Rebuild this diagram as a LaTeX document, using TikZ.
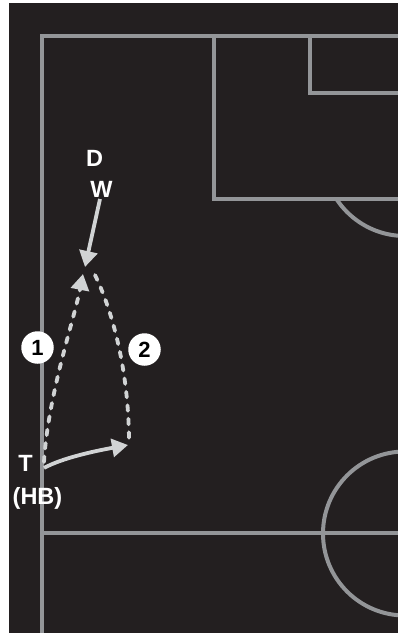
\documentclass[tikz,border=0pt]{standalone}
\usepackage{fontspec}
\setmainfont{Liberation Sans}
\usetikzlibrary{arrows.meta}
\definecolor{pitchbg}{HTML}{231F20}
\definecolor{pitchline}{HTML}{939598}
\definecolor{runline}{HTML}{D1D3D4}
\begin{document}
\begin{tikzpicture}[x=1pt,y=-1pt,
  pitch/.style={draw=pitchline,line width=4pt},
  run/.style={draw=runline,line width=3.8pt,dash pattern=on 5.5pt off 8pt,line cap=round},
  move/.style={draw=runline,line width=3.8pt},
  tipped/.style={-{Triangle[length=16pt,width=18pt]}},
  lbl/.style={text=white,font=\bfseries\fontsize{23.5}{26}\selectfont,inner sep=0pt,text height=16.8pt,text depth=0pt},
  num/.style={circle,fill=white,minimum size=32.5pt,inner sep=0pt,text=black,font=\bfseries\fontsize{22}{24}\selectfont,text height=15.8pt,text depth=0pt}]
\useasboundingbox (0,0) rectangle (398,633);
\fill[pitchbg] (9,3) rectangle (398,633);
\begin{scope}
  \clip (9,3) rectangle (398,633);
  \draw[pitch] (405,36) -- (42,36) -- (42,640);
  \draw[pitch] (214,36) -- (214,199) -- (405,199);
  \draw[pitch] (310,36) -- (310,93) -- (405,93);
  \draw[pitch] (42,533) -- (405,533);
  \draw[pitch] (405,533.5) circle[radius=82];
  \begin{scope}
    \clip (0,199) rectangle (398,633);
    \draw[pitch] (405,154) circle[radius=82];
  \end{scope}
\end{scope}
% labels
\node[lbl] (D) at (94.5,158.5) {D};
\node[lbl] (W) at (101.5,189) {W};
\node[lbl] (T) at (25.5,463.5) {T};
\node[lbl] (HB) at (37.5,496.5) {(HB)};
% connectors
\coordinate (dwS) at (100,199);
\coordinate (dwE) at (85,267);
\coordinate (tA) at (44,462);
\coordinate (tB) at (44,468);
\coordinate (r1) at (83,274);
\coordinate (r2s) at (95,275);
\coordinate (pass) at (129,443);
\coordinate (passtip) at (128,445);
\draw[move,tipped] (dwS) -- (dwE);
\draw[run,tipped] (tA) .. controls (48,395) and (74,320) .. (r1);
\draw[run] (r2s) .. controls (112,310) and (129,370) .. (pass);
\draw[move,tipped] (tB) .. controls (62,458) and (95,451) .. (passtip);
% numbers
\node[num] (n1) at (37.5,347.5) {1};
\node[num] (n2) at (144.5,349.5) {2};
\end{tikzpicture}
\end{document}
